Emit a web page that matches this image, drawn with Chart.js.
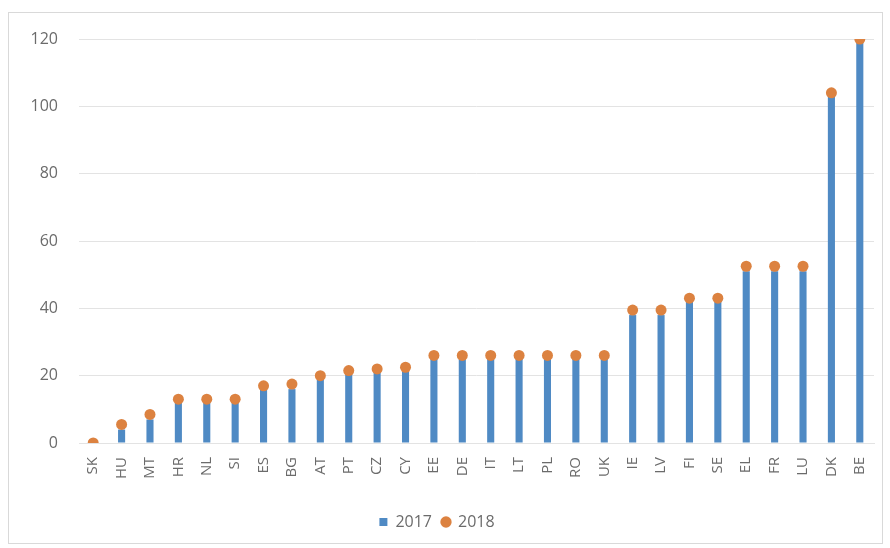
<!DOCTYPE html>
<html>
<head>
<meta charset="utf-8">
<script src="https://cdn.jsdelivr.net/npm/chart.js@4"></script>
<style>
  html, body { margin: 0; padding: 0; background: #fff; }
  #wrap { position: relative; width: 890px; height: 548px; }
  #frame { position: absolute; left: 8px; top: 12px; width: 875px; height: 532px; border: 1px solid #d9d9d9; box-sizing: border-box; }
  canvas { position: absolute; left: 0; top: 0; }
</style>
</head>
<body>
<div id="wrap">
  <div id="frame"></div>
  <canvas id="chart" width="890" height="548"></canvas>
</div>
<script>
const countries = ['SK','HU','MT','HR','NL','SI','ES','BG','AT','PT','CZ','CY','EE','DE','IT','LT','PL','RO','UK','IE','LV','FI','SE','EL','FR','LU','DK','BE'];
const values2017 = [0, 4, 7, 12, 12, 12, 16, 16, 19, 20.5, 21, 21.5, 25, 25, 25, 25, 25, 25, 25, 38, 38, 42, 42, 51, 51, 51, 103, 119];
const values2018 = [0, 5.5, 8.5, 13, 13, 13, 17, 17.5, 20, 21.5, 22, 22.5, 26, 26, 26, 26, 26, 26, 26, 39.5, 39.5, 43, 43, 52.5, 52.5, 52.5, 104, 120];
const yTicks = [0, 20, 40, 60, 80, 100, 120];

const blue = '#4f8ac4';
const orange = '#dc8240';
const textGray = '#6b6b6b';

const ctx = document.getElementById('chart').getContext('2d');

new Chart(ctx, {
    type: 'bar',
    data: {
        labels: countries,
        datasets: [
            {
                type: 'bar',
                label: '2017',
                data: values2017,
                backgroundColor: blue,
                barPercentage: 0.25,
                categoryPercentage: 1,
                order: 2
            },
            {
                type: 'line',
                label: '2018',
                data: values2018,
                showLine: false,
                pointRadius: 5.5,
                pointBackgroundColor: orange,
                pointBorderWidth: 0,
                backgroundColor: orange,
                borderColor: orange,
                order: 1
            }
        ]
    },
    options: {
        responsive: false,
        animation: false,
        layout: { padding: { top: 39, right: 16, bottom: 8, left: 0 } },
        plugins: {
            tooltip: { enabled: false },
            legend: {
                position: 'bottom',
                labels: {
                    color: textGray,
                    font: { family: 'Open Sans', size: 16 },
                    usePointStyle: true,
                    boxWidth: 8,
                    boxHeight: 8,
                    padding: 10,
                    sort: (a, b) => a.datasetIndex - b.datasetIndex,
                    generateLabels: (chart) => {
                        const items = Chart.defaults.plugins.legend.labels.generateLabels(chart);
                        items.forEach((it) => {
                            const isBar = it.datasetIndex === 0;
                            it.pointStyle = isBar ? 'rect' : 'circle';
                            it.fillStyle = isBar ? blue : orange;
                            it.strokeStyle = 'rgba(0,0,0,0)';
                            it.lineWidth = 0;
                        });
                        return items;
                    }
                }
            }
        },
        scales: {
            x: {
                grid: { display: false },
                border: { color: '#e3e3e3' },
                ticks: {
                    color: textGray,
                    font: { family: 'Open Sans', size: 15 },
                    maxRotation: 90,
                    minRotation: 90,
                    autoSkip: false,
                    padding: 6
                },
                afterFit: (scale) => { scale.height = 61; }
            },
            y: {
                min: 0,
                max: 120,
                afterBuildTicks: (scale) => { scale.ticks = yTicks.map(v => ({ value: v })); },
                grid: { color: '#e3e3e3', drawTicks: false },
                border: { display: false },
                ticks: {
                    color: textGray,
                    font: { family: 'Open Sans', size: 16 },
                    padding: 21
                },
                afterFit: (scale) => { scale.width = 79; }
            }
        }
    }
});
</script>
</body>
</html>
